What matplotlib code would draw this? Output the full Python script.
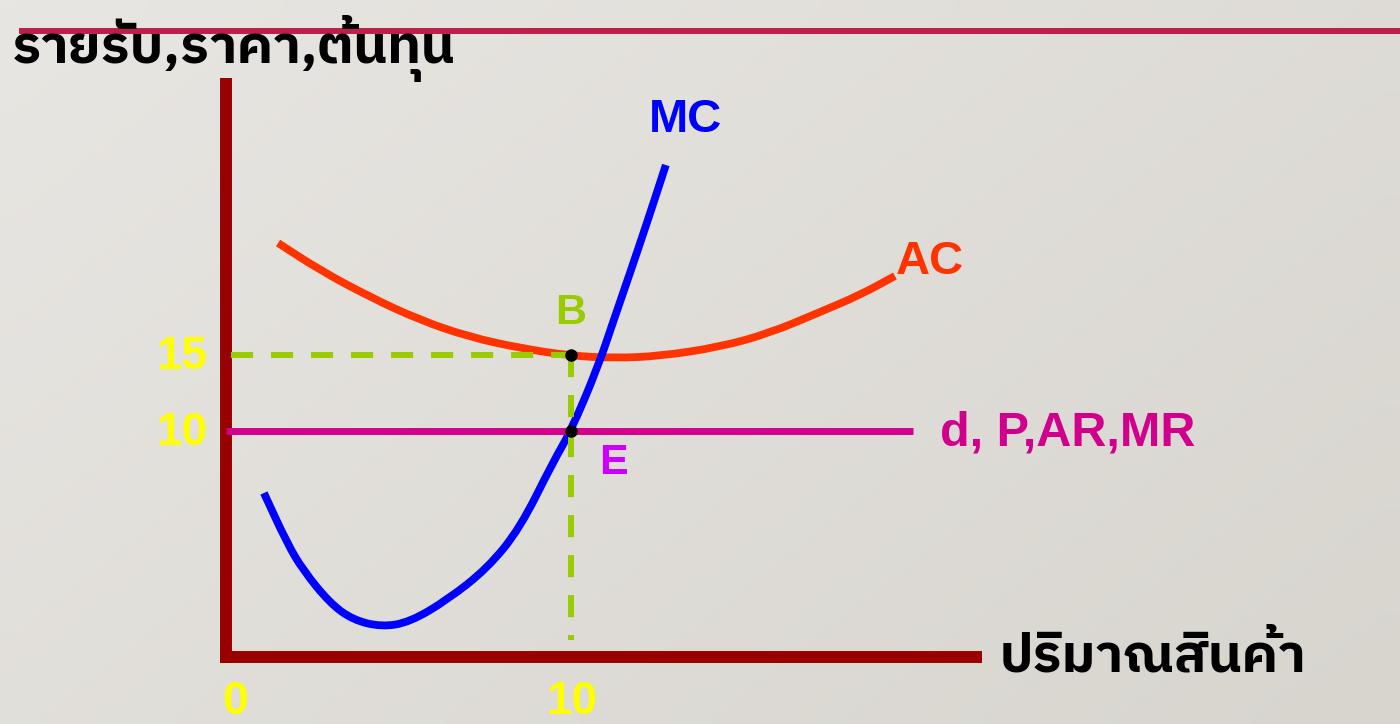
import numpy as np
import matplotlib
matplotlib.use("Agg")
import matplotlib.pyplot as plt
from matplotlib import font_manager
from matplotlib.ft2font import FT2Font
from matplotlib.lines import Line2D
from matplotlib.path import Path
from matplotlib.patches import PathPatch

# quantity / price values
mc_q = [1.10, 1.77, 2.23, 3.01, 3.68, 4.52, 5.33, 6.41, 7.57, 8.52, 9.48, 10.0,
        10.78, 11.22, 11.71, 12.20, 12.75]
mc_p = [5.92, 2.63, 0.86, -1.32, -2.43, -2.89, -2.57, -1.12, 0.95, 3.59, 7.96, 10.0,
        14.21, 17.17, 20.39, 23.68, 27.50]

ac_q = [1.51, 2.72, 4.17, 5.62, 7.07, 8.52, 9.97, 11.28, 12.58, 14.32, 15.77, 17.22,
        18.38, 19.39]
ac_p = [22.37, 20.59, 18.82, 17.30, 16.18, 15.46, 14.95, 14.80, 14.93, 15.53, 16.45,
        17.83, 18.95, 20.20]

price = 10
price_q_end = 19.9
eq_q = 10          # quantity at E
b_cost = 15        # average cost at B

x_ticks = [0, 10]
y_ticks = [10, 15]

title_text = "รายรับ,ราคา,ต้นทุน"
xlabel_text = "ปริมาณสินค้า"


def find_thai_font():
    found = []
    for f in font_manager.fontManager.ttflist:
        try:
            cmap = FT2Font(f.fname).get_charmap()
        except Exception:
            continue
        if 0x0E23 in cmap:
            found.append(f)
    if not found:
        return None

    def rank(f):
        n = f.name.lower()
        bold = 0 if f.weight in ("bold", 700) else 1
        sans = 0 if ("sans" in n and "serif" not in n) else 1
        return (bold, sans, f.name)

    found.sort(key=rank)
    return found[0].name


def smooth_path(xs, ys):
    # quadratic bezier through midpoints, read points act as control points
    pts = np.column_stack([xs, ys])
    verts = [pts[0]]
    codes = [Path.MOVETO]
    verts.append((pts[0] + pts[1]) / 2)
    codes.append(Path.LINETO)
    for i in range(1, len(pts) - 1):
        verts += [pts[i], (pts[i] + pts[i + 1]) / 2]
        codes += [Path.CURVE3, Path.CURVE3]
    verts.append(pts[-1])
    codes.append(Path.LINETO)
    return Path(verts, codes)


thai = find_thai_font()
thai_family = [thai, "DejaVu Sans"] if thai else ["DejaVu Sans"]

fig = plt.figure(figsize=(14, 7.24), dpi=100)

# soft grey gradient background
bg = fig.add_axes([0, 0, 1, 1], zorder=-10)
gx, gy = np.meshgrid(np.linspace(0, 1, 50), np.linspace(0, 1, 50))
g = 0.6 * gx + 0.4 * gy
c0 = np.array([232, 230, 226]) / 255
c1 = np.array([216, 213, 207]) / 255
img = c0[None, None, :] * (1 - g[..., None]) + c1[None, None, :] * g[..., None]
bg.imshow(img, aspect="auto", extent=[0, 1, 0, 1], interpolation="bilinear")
bg.axis("off")

ax = fig.add_axes([0, 0, 1, 1])
ax.set_xlim(-6.55, 34.03)
ax.set_ylim(-9.28, 38.36)
ax.axis("off")
ax.patch.set_alpha(0)

# top decorative rule
fig.add_artist(Line2D([22 / 1400, 1], [1 - 31 / 724] * 2, color="#be1f4a", lw=4.3))

# axes of the diagram
axis_col = "#990000"
ax.plot([0, 0], [-5.25, 33.2], color=axis_col, lw=8.6, solid_capstyle="butt")
ax.plot([-0.17, 21.9], [-4.87, -4.87], color=axis_col, lw=8.6, solid_capstyle="butt")

# d = P = AR = MR
ax.plot([0, price_q_end], [price, price], color="#d4008c", lw=5, solid_capstyle="butt")

ax.add_patch(PathPatch(smooth_path(ac_q, ac_p), fill=False, edgecolor="#ff3300",
                       lw=5.6, capstyle="butt", joinstyle="round"))
ax.add_patch(PathPatch(smooth_path(mc_q, mc_p), fill=False, edgecolor="#0000ff",
                       lw=5.6, capstyle="butt", joinstyle="round"))

green = "#99cc00"
ax.plot([0.15, eq_q], [b_cost, b_cost], color=green, lw=4.3, dashes=(3.7, 3.0))
ax.plot([eq_q, eq_q], [b_cost, -3.75], color=green, lw=4.3, dashes=(3.7, 3.0))

ax.plot([eq_q, eq_q], [b_cost, price], "o", color="black", ms=8, zorder=5)

bold = dict(family=["Liberation Sans", "DejaVu Sans"], fontweight="bold")
ax.text(13.33, 30.46, "MC", color="#0000ff", fontsize=34, ha="center", va="center", **bold)
ax.text(20.41, 21.12, "AC", color="#ff3300", fontsize=34, ha="center", va="center", **bold)
ax.text(10.0, 17.76, "B", color=green, fontsize=31, ha="center", va="center", **bold)
ax.text(11.22, 7.89, "E", color="#cc00ff", fontsize=31, ha="center", va="center", **bold)
ax.text(20.70, 9.85, "d, P,AR,MR", color="#d1008c", fontsize=35, ha="left", va="center", **bold)

for v in y_ticks:
    ax.text(-0.55, v - 0.15, str(v), color="#ffff00", fontsize=33, ha="right", va="center",
            **bold)
ax.text(x_ticks[0] + 0.26, -8.6, str(x_ticks[0]), color="#ffff00", fontsize=33,
        ha="center", va="baseline", **bold)
ax.text(x_ticks[1] + 0.03, -8.6, str(x_ticks[1]), color="#ffff00", fontsize=33,
        ha="center", va="baseline", **bold)

fig.text(12 / 1400, 1 - 63 / 724, title_text, family=thai_family, fontweight="bold",
         fontsize=38.5, color="black", ha="left", va="baseline")
fig.text(1000 / 1400, 1 - 672 / 724, xlabel_text, family=thai_family, fontweight="bold",
         fontsize=38.5, color="black", ha="left", va="baseline")

fig.savefig("out.png", dpi=100)
